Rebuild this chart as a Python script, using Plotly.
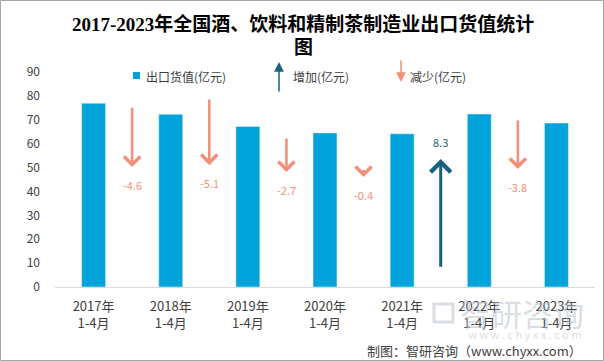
import plotly.graph_objects as go

# ---- data ----
years = ["2017年", "2018年", "2019年", "2020年", "2021年", "2022年", "2023年"]
period = "1-4月"
export_values = [76.9, 72.3, 67.2, 64.5, 64.1, 72.4, 68.6]
change_values = [-4.6, -5.1, -2.7, -0.4, 8.3, -3.8]
change_labels = ["-4.6", "-5.1", "-2.7", "-0.4", "8.3", "-3.8"]
arrow_from = [75.7, 79.1, 62.8, 49.6, 7.9, 70.3]
arrow_to = [50.2, 51.0, 48.1, 46.0, 53.6, 49.4]
y_ticks = [0, 10, 20, 30, 40, 50, 60, 70, 80, 90]

# ---- styles ----
W, H = 604, 361
L, R, T, B = 55, 9, 72, 74
BAR = "#00A3DA"
UP = "#17607F"
DOWN = "#F2907A"
TXT = "#404040"
WM = "rgba(185,194,204,0.55)"
CJK = "Noto Sans CJK SC"

def px_x(x):
    return (x - L) / (W - L - R)

def px_y(y):
    return (H - B - y) / (H - T - B)

xs = list(range(len(years)))
ticktext = [f"{y}<br>{period}" for y in years]

fig = go.Figure()
fig.add_trace(go.Bar(
    x=xs, y=export_values, marker_color=BAR, width=0.31,
    showlegend=False, hoverinfo="skip",
))

ann = []
shapes = []
for i, ch in enumerate(change_values):
    xm = i + 0.5
    col = UP if ch > 0 else DOWN
    ann.append(dict(
        x=xm, y=arrow_to[i], ax=xm, ay=arrow_from[i],
        xref="x", yref="y", axref="x", ayref="y",
        text="", showarrow=True, arrowhead=4,
        arrowsize=1.3 if ch > 0 else 1.2, arrowwidth=3 if ch > 0 else 2.6,
        arrowcolor=col, standoff=0,
    ))
    ann.append(dict(
        x=xm, y=arrow_to[i], xref="x", yref="y",
        text=change_labels[i], showarrow=False,
        yshift=17 if ch > 0 else -18,
        font=dict(family=CJK, size=11, color=UP if ch > 0 else DOWN),
    ))

def paper_text(x, y, text, size, color, anchor="center", family=CJK):
    return dict(x=px_x(x), y=px_y(y), xref="paper", yref="paper",
                xanchor=anchor, yanchor="middle", text=text, showarrow=False,
                font=dict(family=family, size=size, color=color))

# legend (manual)
shapes.append(dict(type="rect", xref="paper", yref="paper",
                   x0=px_x(133), x1=px_x(140), y0=px_y(72), y1=px_y(79),
                   fillcolor=BAR, line=dict(width=0)))
ann.append(paper_text(144, 76, "出口货值(亿元)", 12, TXT, "left"))
ann.append(dict(x=px_x(279), y=px_y(62), xref="paper", yref="paper",
                ax=0, ay=31, text="", showarrow=True, arrowhead=2, arrowsize=1.3,
                arrowwidth=1.5, arrowcolor=UP, standoff=0))
ann.append(paper_text(291, 76, "增加(亿元)", 12, TXT, "left"))
ann.append(dict(x=px_x(401), y=px_y(82), xref="paper", yref="paper",
                ax=0, ay=-23, text="", showarrow=True, arrowhead=2, arrowsize=1.3,
                arrowwidth=1.5, arrowcolor=DOWN, standoff=0))
ann.append(paper_text(408, 76, "减少(亿元)", 12, TXT, "left"))

# title
TF = "Liberation Serif, " + CJK
ann.append(paper_text(303, 24, "<b>2017-2023年全国酒、饮料和精制茶制造业出口货值统计</b>", 19, "#000000", family=TF))
ann.append(paper_text(303, 48, "<b>图</b>", 19, "#000000", family=TF))

# watermark
ann.append(paper_text(586, 312, "智研咨询", 31, WM, "right"))
ann.append(paper_text(584, 334, "w w w . c h y x x . c o m", 11, WM, "right"))
shapes.append(dict(type="rect", xref="paper", yref="paper",
                   x0=px_x(434), x1=px_x(453), y0=px_y(304), y1=px_y(322),
                   line=dict(color=WM, width=3)))

# source
ann.append(paper_text(584, 350, "制图：智研咨询（www.chyxx.com）", 13, TXT, "right"))

# border
shapes.append(dict(type="rect", xref="paper", yref="paper",
                   x0=px_x(0.5), x1=px_x(603.5), y0=px_y(0.5), y1=px_y(360.5),
                   line=dict(color="#A6A6A6", width=1), layer="below"))

fig.update_layout(
    width=W, height=H,
    margin=dict(l=L, r=R, t=T, b=B),
    paper_bgcolor="white", plot_bgcolor="white",
    showlegend=False,
    annotations=ann, shapes=shapes,
    xaxis=dict(range=[-0.5, 6.5], tickvals=xs, ticktext=ticktext,
               showline=True, linecolor="#D9D9D9", linewidth=1,
               showgrid=False, zeroline=False, ticks="",
               ticklabelstandoff=7,
               tickfont=dict(family=CJK, size=13, color=TXT)),
    yaxis=dict(range=[0, 90], tickvals=y_ticks, showgrid=False,
               zeroline=False, showline=False, ticks="",
               ticklabelstandoff=14,
               tickfont=dict(family=CJK, size=12, color=TXT)),
    font=dict(family=CJK),
)

fig.write_html("out.html", config={"displayModeBar": False},
               post_script="document.body.style.margin='0';document.body.style.overflow='hidden';")
